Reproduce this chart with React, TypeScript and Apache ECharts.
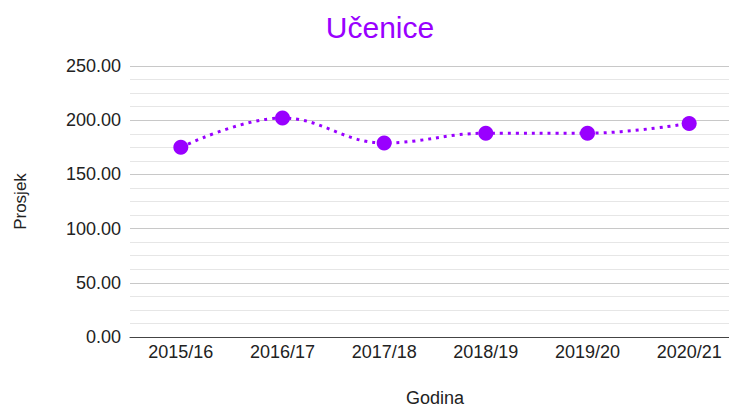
import React, { useEffect, useRef } from "react";
import * as echarts from "echarts";

const categories = ["2015/16", "2016/17", "2017/18", "2018/19", "2019/20", "2020/21"];
const values = [175, 202, 179, 188, 188, 197];
const titleText = "Učenice";
const xName = "Godina";
const yName = "Prosjek";

const PURPLE = "#9900ff";
const FONT = "'Liberation Sans', Arial, sans-serif";

export default function App() {
  const ref = useRef<HTMLDivElement>(null);
  useEffect(() => {
    if (!ref.current) return;
    const chart = echarts.init(ref.current, undefined, { renderer: "svg" });
    chart.setOption({
      animation: false,
      backgroundColor: "#ffffff",
      title: {
        text: titleText,
        left: 375,
        textAlign: "center",
        top: 7,
        textStyle: { color: PURPLE, fontSize: 30, fontWeight: "normal", fontFamily: FONT },
      },
      grid: { left: 130, right: 0, top: 66, bottom: 71 },
      xAxis: {
        type: "category",
        data: categories,
        boundaryGap: true,
        name: xName,
        nameLocation: "middle",
        nameGap: 52,
        nameTextStyle: { color: "#222", fontSize: 18, fontFamily: FONT },
        axisLine: { show: true, lineStyle: { color: "#444", width: 1 } },
        axisTick: { show: false },
        axisLabel: { color: "#222", fontSize: 18, fontFamily: FONT, margin: 6 },
        splitLine: { show: false },
      },
      yAxis: {
        type: "value",
        min: 0,
        max: 250,
        interval: 50,
        name: yName,
        nameLocation: "middle",
        nameGap: 101,
        nameTextStyle: { color: "#222", fontSize: 17, fontFamily: FONT },
        axisLine: { show: false },
        axisTick: { show: false },
        axisLabel: {
          color: "#222",
          fontSize: 18,
          fontFamily: FONT,
          margin: 9,
          formatter: (v: number) => v.toFixed(2),
        },
        splitLine: { show: true, lineStyle: { color: "#c8c8c8", width: 1 } },
        minorTick: { show: false, splitNumber: 4 },
        minorSplitLine: { show: true, lineStyle: { color: "#e6e6e6", width: 1 } },
      },
      series: [
        {
          type: "line",
          data: values,
          smooth: 0.4,
          symbol: "circle",
          symbolSize: 15,
          itemStyle: { color: PURPLE },
          lineStyle: { color: PURPLE, width: 3, type: [3, 5] },
        },
      ],
    });
    return () => chart.dispose();
  }, []);
  return (
    <div
      style={{
        position: "absolute",
        left: 0,
        top: 0,
        width: 729,
        height: 412,
        overflow: "hidden",
      }}
    >
      <div ref={ref} style={{ width: 740, height: 412 }} />
    </div>
  );
}
